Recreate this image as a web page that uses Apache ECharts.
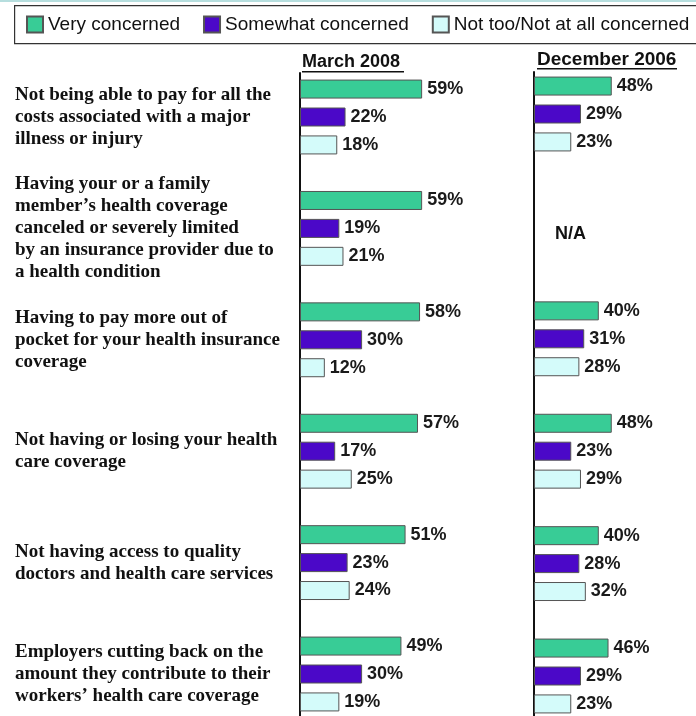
<!DOCTYPE html>
<html>
<head>
<meta charset="utf-8">
<script src="https://cdn.jsdelivr.net/npm/echarts@6/dist/echarts.min.js"></script>
<style>
  html, body { margin: 0; padding: 0; background: #fff; }
  #chart { width: 696px; height: 716px; }
</style>
</head>
<body>
<div id="chart"></div>
<script>
// categories (top to bottom)
const categories = [
  "Not being able to pay for all the\ncosts associated with a major\nillness or injury",
  "Having your or a family\nmember\u2019s health coverage\ncanceled or severely limited\nby an insurance provider due to\na health condition",
  "Having to pay more out of\npocket for your health insurance\ncoverage",
  "Not having or losing your health\ncare coverage",
  "Not having access to quality\ndoctors and health care services",
  "Employers cutting back on the\namount they contribute to their\nworkers\u2019 health care coverage"
];
const seriesNames = ["Very concerned", "Somewhat concerned", "Not too/Not at all concerned"];

// March 2008
const march2008Very = [59, 59, 58, 57, 51, 49];
const march2008Somewhat = [22, 19, 30, 17, 23, 30];
const march2008NotToo = [18, 21, 12, 25, 24, 19];

// December 2006 (second item not asked -> N/A)
const dec2006Very = [48, null, 40, 48, 40, 46];
const dec2006Somewhat = [29, null, 31, 23, 28, 29];
const dec2006NotToo = [23, null, 28, 29, 32, 23];

const colors = ["#38cc96", "#4b08c8", "#d4fbfa"];

const myChart = echarts.init(document.getElementById("chart"));

const labelStyle = {
  show: true,
  position: "right",
  distance: 5,
  formatter: "{c}%",
  color: "#1a1a1a",
  fontFamily: "Liberation Sans, Arial",
  fontWeight: "bold",
  fontSize: 18
};

function makeBar(name, data, idx, axisIdx) {
  return {
    name: name,
    type: "bar",
    data: data,
    xAxisIndex: axisIdx,
    yAxisIndex: axisIdx,
    barWidth: 19,
    barGap: "47%",
    clip: false,
    itemStyle: { color: colors[idx], borderColor: "#555", borderWidth: 1 },
    label: labelStyle
  };
}

const option = {
  animation: false,
  legend: {
    left: 15,
    top: 5,
    padding: [10, 5, 9, 11],
    itemWidth: 16,
    itemHeight: 16,
    itemGap: 23,
    icon: "rect",
    data: seriesNames,
    textStyle: { fontFamily: "Liberation Sans, Arial", fontSize: 19, color: "#111" }
  },
  // category ticks sit on the centre of each group (boundaryGap false)
  grid: [
    { left: 300, top: 117, width: 207, height: 557 },
    { left: 534, top: 114, width: 220, height: 562 },
    // vertical axis lines
    { left: 300, top: 73, width: 207, bottom: 0 },
    { left: 534, top: 72, width: 220, bottom: 0 }
  ],
  xAxis: [
    { gridIndex: 0, type: "value", min: 0, max: 100, show: false },
    { gridIndex: 1, type: "value", min: 0, max: 100, show: false },
    { gridIndex: 2, type: "value", min: 0, max: 1, show: false },
    { gridIndex: 3, type: "value", min: 0, max: 1, show: false }
  ],
  yAxis: [
    {
      gridIndex: 0,
      type: "category",
      inverse: true,
      boundaryGap: false,
      data: categories,
      axisLine: { show: false },
      axisTick: { show: false },
      splitLine: { show: false },
      axisLabel: {
        align: "left",
        margin: 285,
        fontFamily: "Liberation Serif, Times New Roman",
        fontWeight: "bold",
        fontSize: 19,
        lineHeight: 22,
        color: "#111"
      }
    },
    {
      gridIndex: 1,
      type: "category",
      inverse: true,
      boundaryGap: false,
      data: categories,
      axisLine: { show: false },
      axisTick: { show: false },
      splitLine: { show: false },
      axisLabel: { show: false }
    },
    {
      gridIndex: 2, type: "value", min: 0, max: 1,
      axisLine: { show: true, lineStyle: { color: "#111", width: 2 } },
      axisTick: { show: false }, axisLabel: { show: false }, splitLine: { show: false }
    },
    {
      gridIndex: 3, type: "value", min: 0, max: 1,
      axisLine: { show: true, lineStyle: { color: "#111", width: 2 } },
      axisTick: { show: false }, axisLabel: { show: false }, splitLine: { show: false }
    }
  ],
  series: [
    makeBar(seriesNames[0], march2008Very, 0, 0),
    makeBar(seriesNames[1], march2008Somewhat, 1, 0),
    makeBar(seriesNames[2], march2008NotToo, 2, 0),
    makeBar(seriesNames[0], dec2006Very, 0, 1),
    makeBar(seriesNames[1], dec2006Somewhat, 1, 1),
    makeBar(seriesNames[2], dec2006NotToo, 2, 1)
  ],
  graphic: [
    // thin band at the top edge
    { type: "rect", left: 0, top: 0, shape: { width: 696, height: 2 }, style: { fill: "#b6dede" } },
    // legend frame (runs off the right edge)
    {
      type: "rect", left: 14, top: 5, z: -1,
      shape: { width: 700, height: 38 },
      style: { fill: "#fff", stroke: "#333", lineWidth: 1.2 }
    },
    // panel titles
    {
      type: "text", left: 302, top: 53,
      style: { text: "March 2008", fontFamily: "Liberation Sans, Arial", fontWeight: "bold", fontSize: 18, fill: "#111" }
    },
    { type: "rect", left: 302, top: 71, shape: { width: 102, height: 1.5 }, style: { fill: "#111" } },
    {
      type: "text", left: 537, top: 50,
      style: { text: "December 2006", fontFamily: "Liberation Sans, Arial", fontWeight: "bold", fontSize: 19, fill: "#111" }
    },
    { type: "rect", left: 537, top: 68, shape: { width: 140, height: 1.5 }, style: { fill: "#111" } },
    {
      type: "text", left: 555, top: 225,
      style: { text: "N/A", fontFamily: "Liberation Sans, Arial", fontWeight: "bold", fontSize: 18, fill: "#111" }
    }
  ]
};

myChart.setOption(option);
</script>
</body>
</html>
